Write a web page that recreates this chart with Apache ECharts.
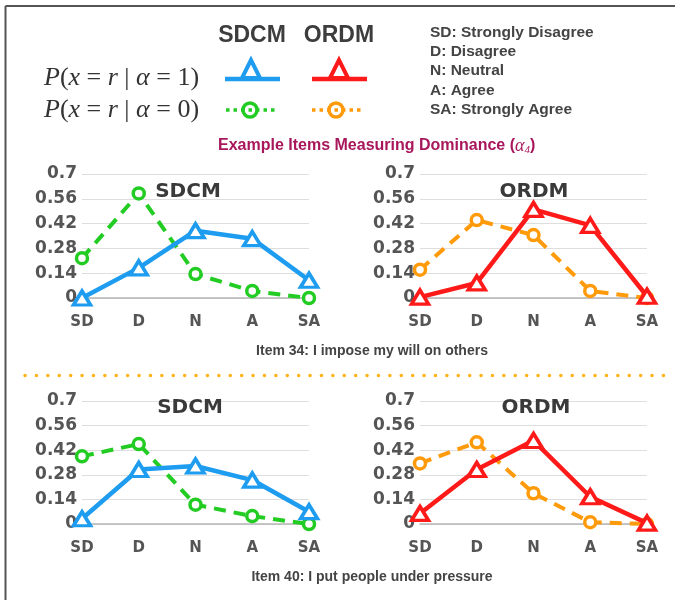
<!DOCTYPE html>
<html><head><meta charset="utf-8">
<script src="https://cdn.jsdelivr.net/npm/echarts@6/dist/echarts.min.js"></script>
<style>html,body{margin:0;padding:0;background:#fff}#c{width:675px;height:600px}</style>
</head><body><div id="c"></div>
<script>
var categories = ['SD', 'D', 'N', 'A', 'SA'];
var yTicks = [0, 0.14, 0.28, 0.42, 0.56, 0.7];
// Item 34
var item34_SDCM_a1 = [0.0, 0.17, 0.38, 0.335, 0.10];
var item34_SDCM_a0 = [0.225, 0.59, 0.135, 0.04, 0.0];
var item34_ORDM_a1 = [0.005, 0.085, 0.50, 0.41, 0.01];
var item34_ORDM_a0 = [0.16, 0.44, 0.355, 0.04, 0.0];
// Item 40
var item40_SDCM_a1 = [0.03, 0.31, 0.33, 0.25, 0.07];
var item40_SDCM_a0 = [0.385, 0.455, 0.11, 0.045, 0.0];
var item40_ORDM_a1 = [0.06, 0.31, 0.475, 0.155, 0.005];
var item40_ORDM_a0 = [0.345, 0.465, 0.175, 0.01, 0.0];
var panelTitles = ['SDCM', 'ORDM', 'SDCM', 'ORDM'];
var captions = ['Item 34: I impose my will on others', 'Item 40: I put people under pressure'];
var glossary = ['SD: Strongly Disagree', 'D: Disagree', 'N: Neutral', 'A: Agree', 'SA: Strongly Agree'];

var BLUE = '#1E9CF0', GREEN = '#22CC22', RED = '#FF1A1A', ORANGE = '#FF9A0A';
var chart = echarts.init(document.getElementById('c'), null, {renderer: 'canvas'});

var grids = [
  {left: 82, top: 174, width: 227, height: 124},
  {left: 420, top: 174, width: 227, height: 124},
  {left: 82, top: 401, width: 227, height: 123},
  {left: 420, top: 401, width: 227, height: 123}
];
var xAxes = [], yAxes = [];
for (var i = 0; i < 4; i++) {
  xAxes.push({
    type: 'category', gridIndex: i, data: categories, boundaryGap: false,
    axisLine: {lineStyle: {color: '#b5b5b5', width: 1.5}},
    axisTick: {show: false},
    axisLabel: {margin: 17, color: '#555', fontFamily: 'DejaVu Sans', fontWeight: 'bold', fontSize: 15}
  });
  yAxes.push({
    type: 'value', gridIndex: i, min: 0, max: 0.7, interval: 0.14,
    axisLine: {show: false}, axisTick: {show: false},
    splitLine: {lineStyle: {color: '#dedede', width: 1}},
    axisLabel: {margin: 5, color: '#555', fontFamily: 'DejaVu Sans', fontWeight: 'bold', fontSize: 17,
      formatter: function (v) { for (var k = 0; k < yTicks.length; k++) { if (Math.abs(yTicks[k] - v) < 1e-6) return String(yTicks[k]); } return ''; }}
  });
}

function solid(name, idx, data, color) {
  return {name: name, type: 'line', xAxisIndex: idx, yAxisIndex: idx, data: data, clip: false, z: 3,
    symbol: 'triangle', symbolSize: [17, 14], showAllSymbol: true,
    lineStyle: {color: color, width: 4.5},
    itemStyle: {color: '#fff', borderColor: color, borderWidth: 3.5}};
}
function dashed(name, idx, data, color) {
  return {name: name, type: 'line', xAxisIndex: idx, yAxisIndex: idx, data: data, clip: false, z: 2,
    symbol: 'circle', symbolSize: 11, showAllSymbol: true,
    lineStyle: {color: color, width: 4, type: [12, 8]},
    itemStyle: {color: '#fff', borderColor: color, borderWidth: 3.5}};
}
var series = [
  dashed('SDCM α=0', 0, item34_SDCM_a0, GREEN), solid('SDCM α=1', 0, item34_SDCM_a1, BLUE),
  dashed('ORDM α=0', 1, item34_ORDM_a0, ORANGE), solid('ORDM α=1', 1, item34_ORDM_a1, RED),
  dashed('SDCM α=0', 2, item40_SDCM_a0, GREEN), solid('SDCM α=1', 2, item40_SDCM_a1, BLUE),
  dashed('ORDM α=0', 3, item40_ORDM_a0, ORANGE), solid('ORDM α=1', 3, item40_ORDM_a1, RED)
];

var graphics = [];
// frame lines
graphics.push({type: 'line', shape: {x1: 5.5, y1: 6, x2: 675, y2: 6}, style: {stroke: '#555', lineWidth: 2}});
graphics.push({type: 'line', shape: {x1: 5.5, y1: 6, x2: 5.5, y2: 600}, style: {stroke: '#555', lineWidth: 2}});
// separator dots
graphics.push({type: 'line', shape: {x1: 25, y1: 375.5, x2: 666, y2: 375.5}, style: {stroke: '#FFB31A', lineWidth: 3.5, lineDash: [0.1, 11.3], lineCap: 'round'}});
// legend headers
graphics.push({type: 'text', x: 252, y: 36, style: {text: 'SDCM', fill: '#3d3d3d', font: 'bold 23px "Liberation Sans"', align: 'center', verticalAlign: 'middle'}});
graphics.push({type: 'text', x: 339, y: 36, style: {text: 'ORDM', fill: '#3d3d3d', font: 'bold 23px "Liberation Sans"', align: 'center', verticalAlign: 'middle'}});
// math labels
var mathRich = {
  i: {fontFamily: 'Liberation Serif', fontStyle: 'italic', fontSize: 26, fill: '#333', color: '#333'},
  n: {fontFamily: 'Liberation Serif', fontSize: 26, fill: '#333', color: '#333'}
};
graphics.push({type: 'text', x: 44, y: 78, style: {text: '{i|P}{n|(}{i|x}{n| = }{i|r}{n| | }{i|α}{n| = 1)}', rich: mathRich, verticalAlign: 'middle'}});
graphics.push({type: 'text', x: 44, y: 110, style: {text: '{i|P}{n|(}{i|x}{n| = }{i|r}{n| | }{i|α}{n| = 0)}', rich: mathRich, verticalAlign: 'middle'}});
// legend icons
graphics.push({type: 'line', shape: {x1: 225, y1: 79, x2: 280, y2: 79}, style: {stroke: BLUE, lineWidth: 4.5}});
graphics.push({type: 'polygon', shape: {points: [[251, 60], [242, 78], [260, 78]]}, style: {fill: '#fff', stroke: BLUE, lineWidth: 4}});
graphics.push({type: 'line', shape: {x1: 312, y1: 79, x2: 367, y2: 79}, style: {stroke: RED, lineWidth: 4.5}});
graphics.push({type: 'polygon', shape: {points: [[339, 60], [330, 78], [348, 78]]}, style: {fill: '#fff', stroke: RED, lineWidth: 4}});
graphics.push({type: 'line', shape: {x1: 226, y1: 110, x2: 277, y2: 110}, style: {stroke: GREEN, lineWidth: 3.5, lineDash: [3.5, 4]}});
graphics.push({type: 'circle', shape: {cx: 250, cy: 110, r: 7}, style: {fill: 'none', stroke: GREEN, lineWidth: 3.5}});
graphics.push({type: 'line', shape: {x1: 312, y1: 110, x2: 363, y2: 110}, style: {stroke: ORANGE, lineWidth: 3.5, lineDash: [3.5, 4]}});
graphics.push({type: 'circle', shape: {cx: 336, cy: 110, r: 7}, style: {fill: 'none', stroke: ORANGE, lineWidth: 3.5}});
// glossary
var gy = [33, 52, 71, 91, 110];
for (var g = 0; g < glossary.length; g++) {
  graphics.push({type: 'text', x: 430, y: gy[g], style: {text: glossary[g], fill: '#444', font: 'bold 15.5px "Liberation Sans"', verticalAlign: 'middle'}});
}
// main title
graphics.push({type: 'text', x: 218, y: 146, style: {
  text: '{a|Example Items Measuring Dominance (}{b|α}{c|4}{a|)}', verticalAlign: 'middle',
  rich: {
    a: {fontFamily: 'Liberation Sans', fontWeight: 'bold', fontSize: 16, fill: '#A8175C', color: '#A8175C'},
    b: {fontFamily: 'Liberation Serif', fontStyle: 'italic', fontSize: 18, fill: '#A8175C', color: '#A8175C'},
    c: {fontFamily: 'Liberation Serif', fontStyle: 'italic', fontSize: 11, fill: '#A8175C', color: '#A8175C', padding: [8, 0, 0, 0]}
  }}});
// panel titles
var pt = [[188, 192], [534, 192], [190, 408], [536, 408]];
for (var p = 0; p < 4; p++) {
  graphics.push({type: 'text', x: pt[p][0], y: pt[p][1], z: 10, style: {text: panelTitles[p], fill: '#3a3a3a', font: 'bold 20px "DejaVu Sans"', align: 'center', verticalAlign: 'middle'}});
}
// captions
graphics.push({type: 'text', x: 372, y: 351, style: {text: captions[0], fill: '#444', font: 'bold 14px "Liberation Sans"', align: 'center', verticalAlign: 'middle'}});
graphics.push({type: 'text', x: 372, y: 577, style: {text: captions[1], fill: '#444', font: 'bold 14px "Liberation Sans"', align: 'center', verticalAlign: 'middle'}});

chart.setOption({
  backgroundColor: '#fff',
  animation: false,
  grid: grids, xAxis: xAxes, yAxis: yAxes, series: series,
  graphic: graphics
});
</script></body></html>
